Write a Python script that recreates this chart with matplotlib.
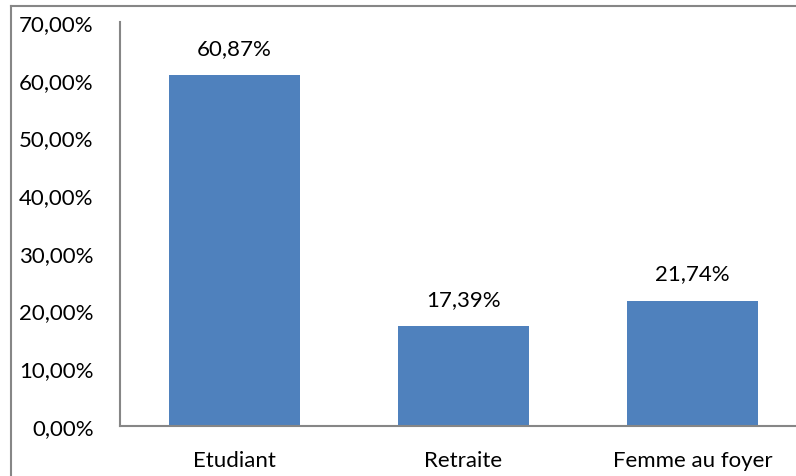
import matplotlib
matplotlib.use('Agg')
import matplotlib.pyplot as plt
from matplotlib.lines import Line2D

categories = ['Etudiant', 'Retraite', 'Femme au foyer']
values = [60.87, 17.39, 21.74]
yticks = [0, 10, 20, 30, 40, 50, 60, 70]

plt.rcParams['font.family'] = ['Lato', 'DejaVu Sans']

W, H = 796, 477
fig = plt.figure(figsize=(W / 100, H / 100), dpi=100)

# zone de tracé (l'axe x dépasse à droite comme dans l'original)
ax = fig.add_axes([120 / W, (H - 427) / H, 687 / W, (427 - 23) / H])
ax.bar(range(len(categories)), values, width=0.57, color='#4F81BD')
ax.set_xlim(-0.5, 2.5)
ax.set_ylim(0, 70)

fs = 16
ax.set_yticks(yticks)
ax.set_yticklabels(['%d,00%%' % v for v in yticks], fontsize=fs)
ax.set_xticks(range(len(categories)))
ax.set_xticklabels(categories, fontsize=fs)
ax.tick_params(axis='y', length=0, pad=19)
ax.tick_params(axis='x', length=0, pad=17)

for s in ('top', 'right'):
    ax.spines[s].set_visible(False)
for s in ('left', 'bottom'):
    ax.spines[s].set_color('#868686')
    ax.spines[s].set_linewidth(1.5)

for i, v in enumerate(values):
    lab = ('%.2f%%' % v).replace('.', ',')
    ax.annotate(lab, (i, v), xytext=(0, 17), textcoords='offset pixels',
                ha='center', va='bottom', fontsize=fs)

# bordure du graphique
fig.add_artist(Line2D([11 / W, 11 / W], [0, (H - 7) / H], transform=fig.transFigure,
                      color='#868686', lw=1.5))
fig.add_artist(Line2D([11 / W, 1], [(H - 7) / H, (H - 7) / H], transform=fig.transFigure,
                      color='#868686', lw=1.5))

fig.savefig('out.png', dpi=100)
